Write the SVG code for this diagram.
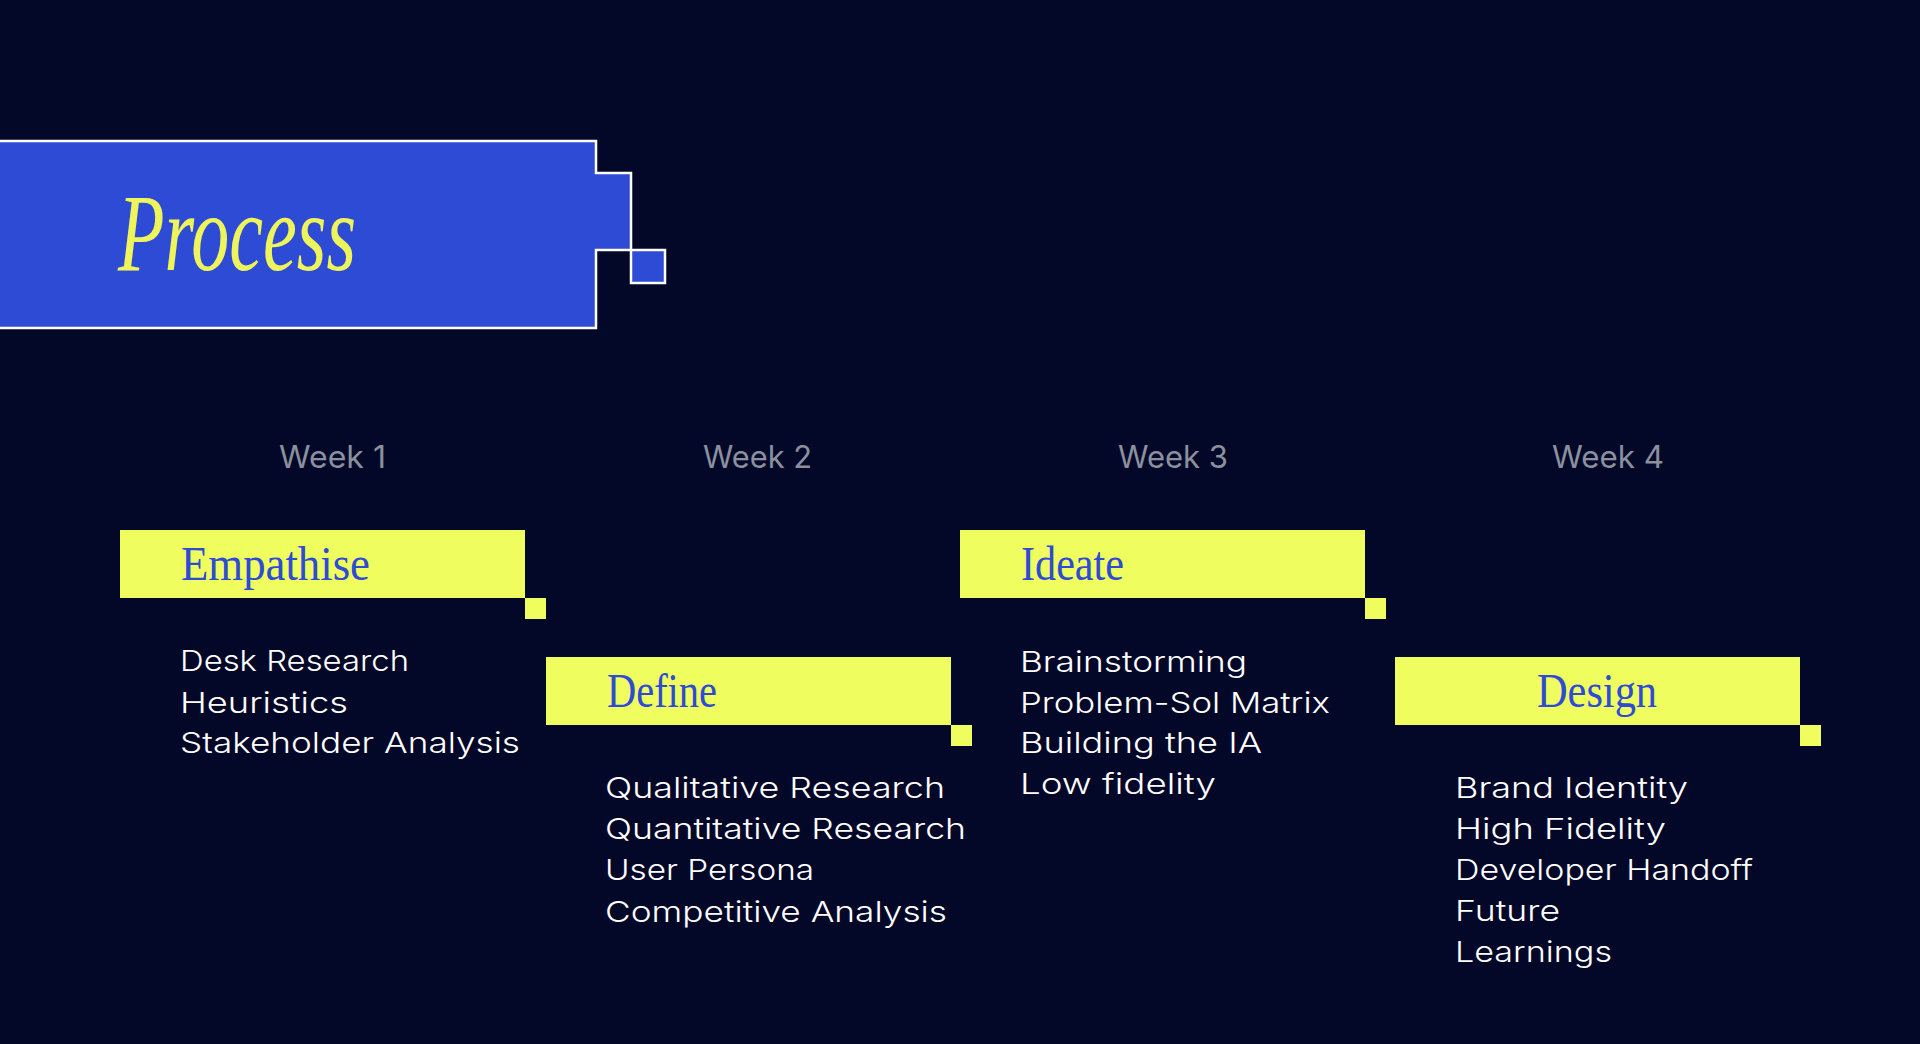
<svg xmlns="http://www.w3.org/2000/svg" width="1920" height="1044" viewBox="0 0 1920 1044">
<style>
.bg{fill:#040828}
.banner{fill:#2e4bd6;stroke:#ffffff;stroke-width:2.5}
.title{font-family:"Liberation Serif",serif;font-style:italic;font-size:110px;fill:#eef55a}
.week{font-family:Inter,"Liberation Sans",sans-serif;font-size:31px;fill:#8b909f}
.box{fill:#effd5e}
.label{font-family:"Liberation Serif",serif;font-size:48px;fill:#2e4bd6}
.item{font-family:Inter,"Liberation Sans",sans-serif;font-size:29px;font-weight:300;fill:#ffffff}
</style>
<rect class="bg" x="0" y="0" width="1920" height="1044"/>
<g id="title">
<path class="banner" d="M-5,141 H596 V173 H631 V250 H596 V328 H-5 Z"/>
<rect class="banner" x="631" y="250" width="34" height="33"/>
<text class="title" x="118" y="270" textLength="238" lengthAdjust="spacingAndGlyphs">Process</text>
</g>
<g id="weeks">
<text class="week" x="279" y="468" textLength="107" lengthAdjust="spacingAndGlyphs">Week 1</text>
<text class="week" x="703" y="468" textLength="109" lengthAdjust="spacingAndGlyphs">Week 2</text>
<text class="week" x="1118" y="468" textLength="110" lengthAdjust="spacingAndGlyphs">Week 3</text>
<text class="week" x="1552" y="468" textLength="112" lengthAdjust="spacingAndGlyphs">Week 4</text>
</g>
<g id="empathise">
<rect class="box" x="120" y="530" width="405" height="68"/>
<rect class="box" x="525" y="598" width="21" height="21"/>
<text class="label" x="181" y="580" textLength="189" lengthAdjust="spacingAndGlyphs">Empathise</text>
<text class="item" x="180" y="671" textLength="229" lengthAdjust="spacingAndGlyphs">Desk Research</text>
<text class="item" x="180" y="713" textLength="168" lengthAdjust="spacingAndGlyphs">Heuristics</text>
<text class="item" x="180" y="753" textLength="340" lengthAdjust="spacingAndGlyphs">Stakeholder Analysis</text>
</g>
<g id="define">
<rect class="box" x="546" y="657" width="405" height="68"/>
<rect class="box" x="951" y="725" width="21" height="21"/>
<text class="label" x="607" y="707" textLength="110" lengthAdjust="spacingAndGlyphs">Define</text>
<text class="item" x="605" y="798" textLength="340" lengthAdjust="spacingAndGlyphs">Qualitative Research</text>
<text class="item" x="605" y="839" textLength="361" lengthAdjust="spacingAndGlyphs">Quantitative Research</text>
<text class="item" x="605" y="880" textLength="209" lengthAdjust="spacingAndGlyphs">User Persona</text>
<text class="item" x="605" y="922" textLength="342" lengthAdjust="spacingAndGlyphs">Competitive Analysis</text>
</g>
<g id="ideate">
<rect class="box" x="960" y="530" width="405" height="68"/>
<rect class="box" x="1365" y="598" width="21" height="21"/>
<text class="label" x="1021" y="580" textLength="103" lengthAdjust="spacingAndGlyphs">Ideate</text>
<text class="item" x="1020" y="672" textLength="227" lengthAdjust="spacingAndGlyphs">Brainstorming</text>
<text class="item" x="1020" y="713" textLength="310" lengthAdjust="spacingAndGlyphs">Problem-Sol Matrix</text>
<text class="item" x="1020" y="753" textLength="242" lengthAdjust="spacingAndGlyphs">Building the IA</text>
<text class="item" x="1020" y="794" textLength="196" lengthAdjust="spacingAndGlyphs">Low fidelity</text>
</g>
<g id="design">
<rect class="box" x="1395" y="657" width="405" height="68"/>
<rect class="box" x="1800" y="725" width="21" height="21"/>
<text class="label" x="1537" y="707" textLength="120" lengthAdjust="spacingAndGlyphs">Design</text>
<text class="item" x="1455" y="798" textLength="233" lengthAdjust="spacingAndGlyphs">Brand Identity</text>
<text class="item" x="1455" y="839" textLength="211" lengthAdjust="spacingAndGlyphs">High Fidelity</text>
<text class="item" x="1455" y="880" textLength="298" lengthAdjust="spacingAndGlyphs">Developer Handoff</text>
<text class="item" x="1455" y="921" textLength="105" lengthAdjust="spacingAndGlyphs">Future</text>
<text class="item" x="1455" y="962" textLength="157" lengthAdjust="spacingAndGlyphs">Learnings</text>
</g>
<g id="connectors"/>
</svg>
